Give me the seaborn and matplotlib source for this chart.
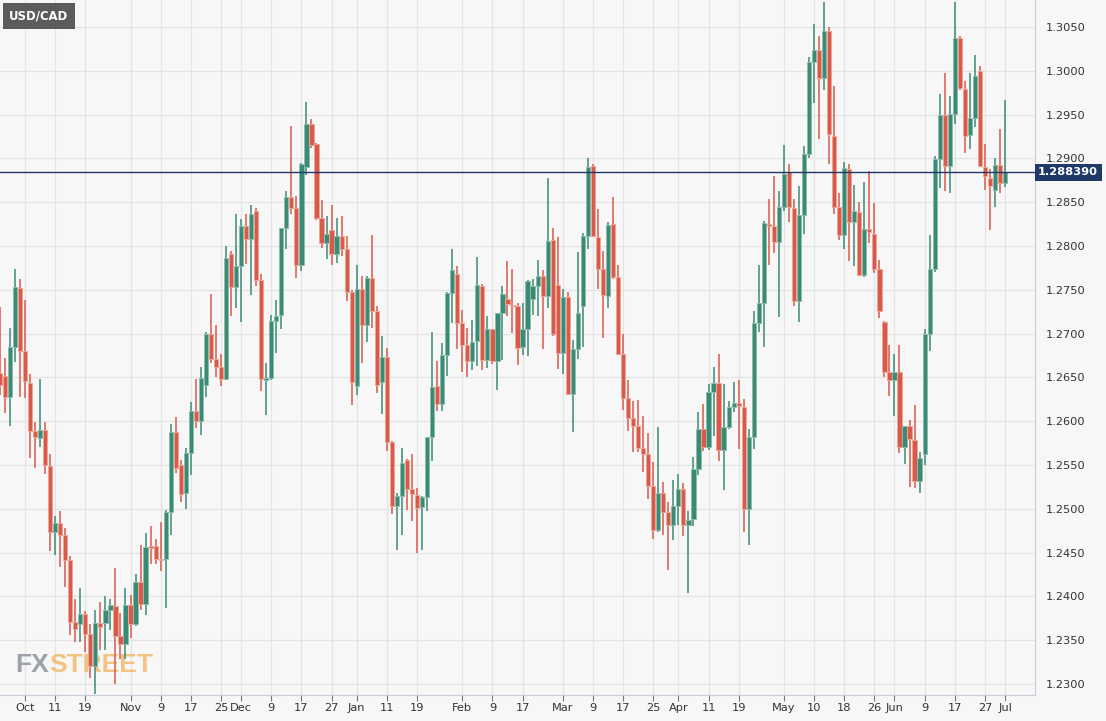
import numpy as np
import pandas as pd
import seaborn as sns
import matplotlib.pyplot as plt

# daily USD/CAD candles, Sep 24 2021 .. Jul 1 2022
opens = [1.2655, 1.2651, 1.2628, 1.2685, 1.2752, 1.2680, 1.2644, 1.2589, 1.2581, 1.2590,
         1.2549, 1.2473, 1.2484, 1.2470, 1.2442, 1.2371, 1.2368, 1.2380, 1.2357, 1.2321,
         1.2370, 1.2370, 1.2384, 1.2389, 1.2355, 1.2346, 1.2390, 1.2369, 1.2416, 1.2391,
         1.2458, 1.2457, 1.2443, 1.2443, 1.2496, 1.2588, 1.2550, 1.2518, 1.2564, 1.2612,
         1.2600, 1.2641, 1.2700, 1.2671, 1.2662, 1.2648, 1.2791, 1.2753, 1.2777, 1.2823,
         1.2808, 1.2840, 1.2761, 1.2647, 1.2649, 1.2714, 1.2721, 1.2820, 1.2856, 1.2843,
         1.2778, 1.2890, 1.2939, 1.2916, 1.2832, 1.2803, 1.2818, 1.2791, 1.2811, 1.2796,
         1.2747, 1.2640, 1.2751, 1.2710, 1.2764, 1.2726, 1.2645, 1.2673, 1.2576, 1.2503,
         1.2515, 1.2556, 1.2522, 1.2516, 1.2502, 1.2513, 1.2582, 1.2640, 1.2620, 1.2676,
         1.2746, 1.2768, 1.2712, 1.2687, 1.2669, 1.2691, 1.2754, 1.2670, 1.2705, 1.2669,
         1.2723, 1.2739, 1.2733, 1.2731, 1.2685, 1.2705, 1.2740, 1.2754, 1.2766, 1.2743,
         1.2807, 1.2756, 1.2678, 1.2742, 1.2631, 1.2682, 1.2732, 1.2811, 1.2891, 1.2810,
         1.2774, 1.2743, 1.2825, 1.2765, 1.2677, 1.2627, 1.2604, 1.2594, 1.2569, 1.2562,
         1.2526, 1.2476, 1.2518, 1.2496, 1.2482, 1.2503, 1.2522, 1.2481, 1.2488, 1.2545,
         1.2591, 1.2571, 1.2633, 1.2644, 1.2567, 1.2593, 1.2616, 1.2621, 1.2616, 1.2500,
         1.2582, 1.2712, 1.2735, 1.2825, 1.2823, 1.2805, 1.2845, 1.2884, 1.2843, 1.2737,
         1.2835, 1.2905, 1.3010, 1.3024, 1.2992, 1.3045, 1.2925, 1.2845, 1.2812, 1.2888,
         1.2827, 1.2839, 1.2767, 1.2819, 1.2814, 1.2774, 1.2713, 1.2656, 1.2647, 1.2656,
         1.2570, 1.2594, 1.2579, 1.2532, 1.2562, 1.2699, 1.2774, 1.2899, 1.2949, 1.2891,
         1.2951, 1.3037, 1.2979, 1.2927, 1.2946, 1.3000, 1.2890, 1.2878, 1.2864, 1.2893,
         1.2872]
highs = [1.2730, 1.2672, 1.2706, 1.2774, 1.2762, 1.2738, 1.2654, 1.2599, 1.2648, 1.2599,
         1.2562, 1.2492, 1.2498, 1.2478, 1.2446, 1.2397, 1.2410, 1.2383, 1.2369, 1.2384,
         1.2393, 1.2400, 1.2397, 1.2432, 1.2381, 1.2409, 1.2401, 1.2426, 1.2459, 1.2472,
         1.2480, 1.2466, 1.2485, 1.2499, 1.2597, 1.2605, 1.2556, 1.2569, 1.2622, 1.2648,
         1.2662, 1.2702, 1.2745, 1.2710, 1.2677, 1.2800, 1.2794, 1.2837, 1.2831, 1.2837,
         1.2847, 1.2843, 1.2768, 1.2666, 1.2721, 1.2738, 1.2821, 1.2863, 1.2937, 1.2857,
         1.2895, 1.2964, 1.2945, 1.2917, 1.2853, 1.2834, 1.2847, 1.2832, 1.2834, 1.2811,
         1.2750, 1.2778, 1.2766, 1.2766, 1.2813, 1.2731, 1.2697, 1.2684, 1.2577, 1.2518,
         1.2569, 1.2557, 1.2563, 1.2524, 1.2515, 1.2582, 1.2702, 1.2669, 1.2689, 1.2747,
         1.2797, 1.2777, 1.2727, 1.2706, 1.2715, 1.2787, 1.2757, 1.2720, 1.2705, 1.2723,
         1.2754, 1.2783, 1.2774, 1.2735, 1.2735, 1.2761, 1.2762, 1.2784, 1.2773, 1.2878,
         1.2821, 1.2810, 1.2751, 1.2748, 1.2693, 1.2793, 1.2815, 1.2901, 1.2894, 1.2842,
         1.2794, 1.2827, 1.2856, 1.2778, 1.2699, 1.2647, 1.2623, 1.2624, 1.2606, 1.2586,
         1.2553, 1.2593, 1.2530, 1.2508, 1.2533, 1.2540, 1.2529, 1.2498, 1.2559, 1.2611,
         1.2620, 1.2642, 1.2662, 1.2677, 1.2643, 1.2623, 1.2645, 1.2647, 1.2625, 1.2591,
         1.2726, 1.2778, 1.2829, 1.2854, 1.2880, 1.2863, 1.2915, 1.2894, 1.2854, 1.2868,
         1.2914, 1.3016, 1.3053, 1.3040, 1.3078, 1.3050, 1.2983, 1.2860, 1.2896, 1.2894,
         1.2870, 1.2850, 1.2873, 1.2886, 1.2849, 1.2784, 1.2714, 1.2687, 1.2677, 1.2687,
         1.2594, 1.2601, 1.2619, 1.2565, 1.2705, 1.2812, 1.2903, 1.2974, 1.2997, 1.2971,
         1.3079, 1.3040, 1.2988, 1.2997, 1.3018, 1.3005, 1.2916, 1.2888, 1.2900, 1.2933,
         1.2967]
lows = [1.2630, 1.2609, 1.2594, 1.2667, 1.2628, 1.2627, 1.2558, 1.2546, 1.2570, 1.2540,
        1.2452, 1.2447, 1.2434, 1.2411, 1.2356, 1.2348, 1.2348, 1.2337, 1.2307, 1.2288,
        1.2339, 1.2339, 1.2362, 1.2300, 1.2329, 1.2328, 1.2352, 1.2366, 1.2384, 1.2379,
        1.2437, 1.2437, 1.2429, 1.2387, 1.2470, 1.2541, 1.2508, 1.2500, 1.2539, 1.2592,
        1.2584, 1.2628, 1.2666, 1.2650, 1.2640, 1.2647, 1.2720, 1.2729, 1.2713, 1.2779,
        1.2744, 1.2754, 1.2634, 1.2607, 1.2647, 1.2678, 1.2705, 1.2796, 1.2837, 1.2763,
        1.2771, 1.2881, 1.2912, 1.2830, 1.2798, 1.2785, 1.2778, 1.2780, 1.2788, 1.2737,
        1.2619, 1.2630, 1.2666, 1.2690, 1.2706, 1.2632, 1.2608, 1.2566, 1.2494, 1.2453,
        1.2470, 1.2499, 1.2486, 1.2450, 1.2453, 1.2498, 1.2554, 1.2612, 1.2612, 1.2651,
        1.2712, 1.2682, 1.2656, 1.2650, 1.2658, 1.2663, 1.2658, 1.2661, 1.2665, 1.2636,
        1.2670, 1.2720, 1.2701, 1.2664, 1.2676, 1.2674, 1.2721, 1.2720, 1.2682, 1.2729,
        1.2697, 1.2659, 1.2654, 1.2630, 1.2588, 1.2671, 1.2685, 1.2796, 1.2810, 1.2751,
        1.2695, 1.2729, 1.2762, 1.2675, 1.2613, 1.2589, 1.2565, 1.2565, 1.2542, 1.2511,
        1.2466, 1.2474, 1.2470, 1.2430, 1.2464, 1.2481, 1.2469, 1.2404, 1.2480, 1.2539,
        1.2566, 1.2567, 1.2583, 1.2555, 1.2521, 1.2591, 1.2610, 1.2568, 1.2473, 1.2459,
        1.2568, 1.2702, 1.2685, 1.2778, 1.2792, 1.2719, 1.2840, 1.2827, 1.2731, 1.2713,
        1.2814, 1.2900, 1.2963, 1.2922, 1.2978, 1.2894, 1.2836, 1.2807, 1.2796, 1.2783,
        1.2777, 1.2766, 1.2765, 1.2803, 1.2769, 1.2718, 1.2650, 1.2629, 1.2606, 1.2564,
        1.2551, 1.2525, 1.2524, 1.2518, 1.2550, 1.2680, 1.2770, 1.2866, 1.2863, 1.2861,
        1.2939, 1.2978, 1.2906, 1.2911, 1.2936, 1.2890, 1.2864, 1.2818, 1.2844, 1.2861,
        1.2867]
closes = [1.2641, 1.2628, 1.2685, 1.2753, 1.2680, 1.2646, 1.2589, 1.2582, 1.2590, 1.2550,
          1.2473, 1.2484, 1.2470, 1.2442, 1.2371, 1.2363, 1.2380, 1.2357, 1.2321, 1.2370,
          1.2365, 1.2384, 1.2390, 1.2355, 1.2346, 1.2390, 1.2369, 1.2416, 1.2391, 1.2456,
          1.2455, 1.2443, 1.2441, 1.2496, 1.2588, 1.2546, 1.2517, 1.2564, 1.2612, 1.2600,
          1.2649, 1.2700, 1.2671, 1.2662, 1.2648, 1.2786, 1.2753, 1.2777, 1.2823, 1.2808,
          1.2837, 1.2761, 1.2648, 1.2649, 1.2714, 1.2720, 1.2820, 1.2856, 1.2843, 1.2778,
          1.2894, 1.2939, 1.2915, 1.2832, 1.2803, 1.2814, 1.2791, 1.2811, 1.2796, 1.2747,
          1.2645, 1.2751, 1.2710, 1.2764, 1.2726, 1.2641, 1.2673, 1.2576, 1.2503, 1.2515,
          1.2552, 1.2522, 1.2517, 1.2501, 1.2513, 1.2582, 1.2639, 1.2620, 1.2675, 1.2746,
          1.2773, 1.2712, 1.2687, 1.2669, 1.2690, 1.2755, 1.2670, 1.2705, 1.2669, 1.2723,
          1.2745, 1.2734, 1.2731, 1.2684, 1.2705, 1.2760, 1.2754, 1.2766, 1.2743, 1.2806,
          1.2700, 1.2678, 1.2742, 1.2631, 1.2682, 1.2724, 1.2811, 1.2890, 1.2811, 1.2774,
          1.2744, 1.2824, 1.2765, 1.2677, 1.2627, 1.2604, 1.2594, 1.2569, 1.2562, 1.2526,
          1.2476, 1.2518, 1.2496, 1.2482, 1.2503, 1.2522, 1.2482, 1.2487, 1.2545, 1.2591,
          1.2571, 1.2633, 1.2644, 1.2567, 1.2593, 1.2616, 1.2621, 1.2617, 1.2500, 1.2582,
          1.2712, 1.2735, 1.2826, 1.2823, 1.2805, 1.2845, 1.2882, 1.2845, 1.2737, 1.2835,
          1.2905, 1.3010, 1.3024, 1.2992, 1.3045, 1.2928, 1.2845, 1.2812, 1.2889, 1.2827,
          1.2840, 1.2767, 1.2819, 1.2816, 1.2774, 1.2726, 1.2656, 1.2647, 1.2656, 1.2570,
          1.2594, 1.2580, 1.2532, 1.2558, 1.2699, 1.2774, 1.2899, 1.2949, 1.2891, 1.2951,
          1.3037, 1.2980, 1.2925, 1.2946, 1.2994, 1.2891, 1.2880, 1.2869, 1.2893, 1.2872,
          1.28839]

tick_pos = [5, 11, 17, 26, 32, 38, 44, 48, 54, 60, 66, 71, 77, 83, 92, 98, 104,
            112, 118, 124, 130, 135, 141, 147, 156, 162, 168, 174, 178, 184, 190, 196, 200]
tick_labels = ["Oct", "11", "19", "Nov", "9", "17", "25", "Dec", "9", "17", "27",
               "Jan", "11", "19", "Feb", "9", "17", "Mar", "9", "17", "25", "Apr",
               "11", "19", "May", "10", "18", "26", "Jun", "9", "17", "27", "Jul"]
price_ticks = [1.2300, 1.2350, 1.2400, 1.2450, 1.2500, 1.2550, 1.2600, 1.2650,
               1.2700, 1.2750, 1.2800, 1.2850, 1.2900, 1.2950, 1.3000, 1.3050]
last_price = 1.28839
pair = "USD/CAD"

BG = "#f7f7f7"
GREEN = "#3a8a75"
RED = "#d9594a"

sns.set_style("whitegrid", {"axes.facecolor": BG, "grid.color": "#e4e4e4",
                            "axes.edgecolor": "#c8c8c8"})
plt.rcParams["font.family"] = ["DejaVu Sans"]

df = pd.DataFrame({"open": opens, "high": highs, "low": lows, "close": closes})
df["x"] = np.arange(len(df))
df["up"] = df["close"] >= df["open"]
df["color"] = np.where(df["up"], GREEN, RED)
df["edge"] = np.where(df["up"], "#8cbcab", "#eea596")
df["bottom"] = df[["open", "close"]].min(axis=1)
df["height"] = (df["close"] - df["open"]).abs().clip(lower=0.00018)

fig = plt.figure(figsize=(11.06, 7.21), dpi=100, facecolor=BG)
ax = fig.add_axes([0, 26 / 721, 1035 / 1106, 695 / 721])

ax.vlines(df["x"], df["low"], df["high"], colors=df["color"], linewidth=1.1, zorder=2)
ax.bar(df["x"], df["height"], bottom=df["bottom"], width=0.84, color=df["color"],
       edgecolor=df["edge"], linewidth=0.7, zorder=3)

ax.axhline(last_price, color="#1f3a68", linewidth=1.0, zorder=4)

ax.set_xlim(0.03, 205.96)
ax.set_ylim(1.22874, 1.30808)
ax.set_xticks(tick_pos)
ax.set_xticklabels(tick_labels)
ax.set_yticks(price_ticks)
ax.set_yticklabels([f"{p:.4f}" for p in price_ticks])
ax.yaxis.tick_right()
ax.tick_params(axis="y", length=0, pad=8, labelsize=8.2, labelcolor="#333333")
ax.tick_params(axis="x", length=4, width=0.8, color="#777777", pad=2,
               labelsize=8.2, labelcolor="#333333", bottom=True)
ax.grid(True, linewidth=0.9)
for side in ["top", "left"]:
    ax.spines[side].set_visible(False)
ax.spines["bottom"].set_color("#c9cbd8")
ax.spines["right"].set_color("#c9cbd8")

# price tag on the right axis
ax.text(1.003, (last_price - 1.22874) / (1.30808 - 1.22874), f"{last_price:.6f}",
        transform=ax.transAxes, ha="left", va="center", fontsize=8.2,
        fontweight="bold", color="white", zorder=6,
        bbox=dict(boxstyle="square,pad=0.3", fc="#1f3a68", ec="none"))

# pair label in the top-left corner
fig.text(9 / 1106, 1 - 16 / 721, pair, ha="left", va="center", fontsize=8.4,
         fontweight="bold", color="white",
         bbox=dict(boxstyle="square,pad=0.55", fc="#5b5b5b", ec="none"))

# watermark, behind the candles
wm_font = ["Liberation Sans", "DejaVu Sans"]
fx = ax.text(15 / 1035, (695 - 665) / 695, "FX", transform=ax.transAxes,
             ha="left", va="center", fontsize=19, fontweight="bold",
             color="#8e929b", alpha=0.85, family=wm_font, zorder=1)
ax.annotate("STREET", xy=(1, 0.5), xycoords=fx, ha="left", va="center",
            fontsize=19, fontweight="bold", color="#f2b25e", alpha=0.75,
            family=wm_font, zorder=1)

fig.savefig("out.png", dpi=100, facecolor=BG)
